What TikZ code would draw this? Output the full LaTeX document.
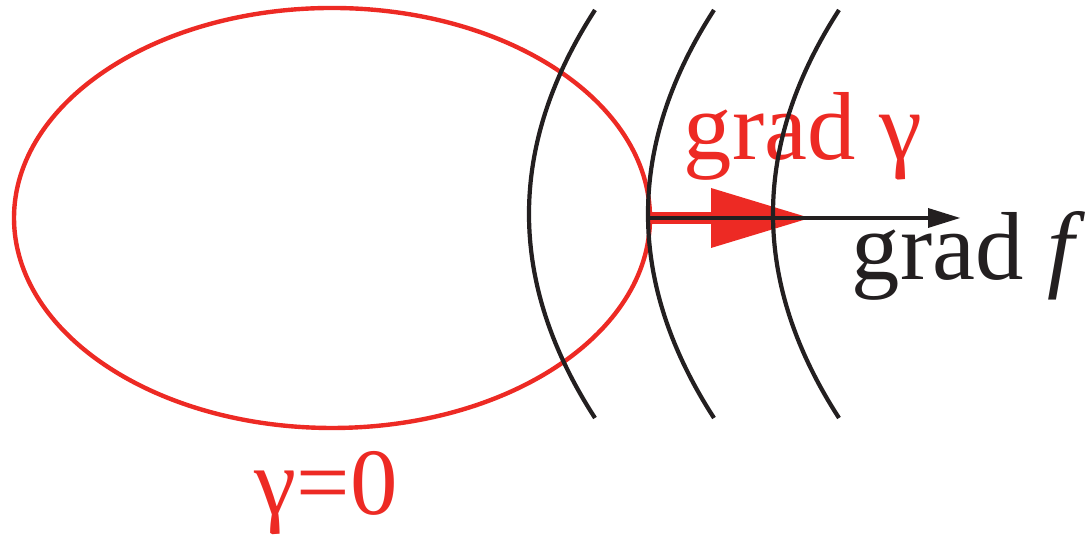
\documentclass[tikz,border=0pt]{standalone}
\usepackage{fontspec}
\setmainfont{Liberation Serif}
\usetikzlibrary{arrows.meta,shapes.geometric}
\definecolor{gradred}{RGB}{237,42,36}
\definecolor{ink}{RGB}{35,31,32}
\begin{document}
\begin{tikzpicture}[
  level/.style={ellipse, draw=gradred, line width=1.25pt, minimum width=6.36cm, minimum height=4.2cm, inner sep=0pt, outer sep=0pt},
  lbl/.style={inner sep=0pt, anchor=base west, font=\fontsize{27.5}{32}\selectfont}]
  \useasboundingbox (0,0) rectangle (10.91,5.35);
  \node[level] (zero) at (3.32,3.17) {};
  \coordinate (gtip) at (8.10,3.17);
  \coordinate (ftip) at (9.60,3.17);

  \draw[gradred, line width=3.4pt, -{Triangle[length=0.99cm,width=0.6cm,line width=0pt]}] (zero.east) -- (gtip);
  \draw[ink, line width=1.3pt, -{Triangle[length=0.32cm,width=0.2cm,line width=0pt]}] (zero.east) -- (ftip);

  \node[lbl, gradred] (gradg) at (6.83,3.75) {grad γ};
  \node[lbl, ink] (gradf) at (8.51,2.55) {grad \textit{f}};
  \node[lbl, gradred, font=\fontsize{27}{32}\selectfont] (eqzero) at (2.54,0.2) {γ=0};

  \foreach \x in {5.95,7.14,8.39}
    \draw[ink, line width=1.2pt] (\x,5.25) .. controls (\x-0.88,3.89) and (\x-0.88,2.53) .. (\x,1.17);
\end{tikzpicture}
\end{document}
